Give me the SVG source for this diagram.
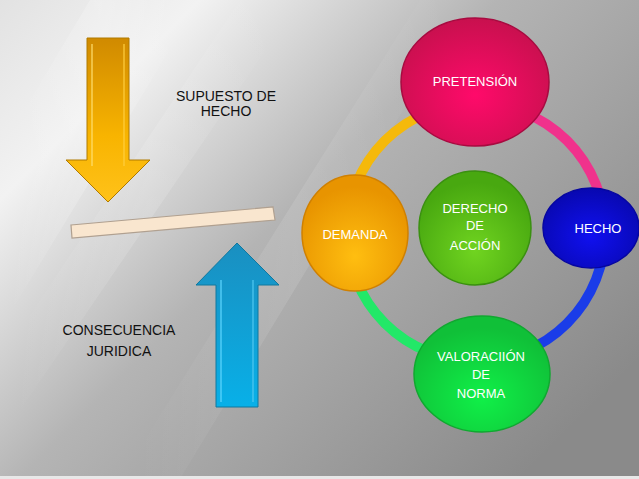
<svg xmlns="http://www.w3.org/2000/svg" width="639" height="479" viewBox="0 0 639 479">
<defs>
<linearGradient id="bg" x1="0" y1="0" x2="1" y2="0.75">
<stop offset="0" stop-color="#e2e2e2"/>
<stop offset="0.2" stop-color="#f2f2f2"/>
<stop offset="0.5" stop-color="#b4b4b4"/>
<stop offset="1" stop-color="#8a8a8a"/>
</linearGradient>
<linearGradient id="streak" x1="0" y1="0" x2="1" y2="0">
<stop offset="0" stop-color="#fff" stop-opacity="0"/>
<stop offset="0.5" stop-color="#fff" stop-opacity="0.35"/>
<stop offset="1" stop-color="#fff" stop-opacity="0"/>
</linearGradient>
<linearGradient id="gold" x1="0" y1="0" x2="0" y2="1">
<stop offset="0" stop-color="#d08a00"/>
<stop offset="0.6" stop-color="#f8b400"/>
<stop offset="1" stop-color="#ffc21a"/>
</linearGradient>
<linearGradient id="blue" x1="0" y1="0" x2="0" y2="1">
<stop offset="0" stop-color="#1a8fc0"/>
<stop offset="1" stop-color="#08b0e8"/>
</linearGradient>
<radialGradient id="gPre" cx="0.5" cy="0.6" r="0.6">
<stop offset="0" stop-color="#ff0a6a"/>
<stop offset="1" stop-color="#c8104e"/>
</radialGradient>
<radialGradient id="gDem" cx="0.5" cy="0.7" r="0.6">
<stop offset="0" stop-color="#ffbe10"/>
<stop offset="1" stop-color="#e89400"/>
</radialGradient>
<radialGradient id="gDer" cx="0.5" cy="0.7" r="0.6">
<stop offset="0" stop-color="#70d420"/>
<stop offset="1" stop-color="#48a810"/>
</radialGradient>
<radialGradient id="gHec" cx="0.5" cy="0.6" r="0.6">
<stop offset="0" stop-color="#1010f0"/>
<stop offset="1" stop-color="#0808b0"/>
</radialGradient>
<radialGradient id="gVal" cx="0.5" cy="0.7" r="0.6">
<stop offset="0" stop-color="#10f048"/>
<stop offset="1" stop-color="#10c038"/>
</radialGradient>
<style>
.lbl{font-family:"Liberation Sans",Arial,sans-serif;font-size:14px;fill:#111;text-anchor:middle}
.wl{font-family:"Liberation Sans",Arial,sans-serif;font-size:13px;fill:#fff;text-anchor:middle}
.ring{fill:none;stroke-width:10}
.node{stroke-width:1.5}
.bevel{fill:none;stroke-width:1.5;opacity:0.8}
</style>
</defs>
<rect width="639" height="479" fill="url(#bg)"/>
<g opacity="0.9">
<polygon points="0,150 90,0 200,0 0,330" fill="url(#streak)" opacity="0.8"/>
<polygon points="0,360 240,0 300,0 0,440" fill="url(#streak)" opacity="0.5"/>
<polygon points="120,479 420,0 470,0 180,479" fill="url(#streak)" opacity="0.35"/>
</g>
<rect x="0" y="476" width="639" height="3" fill="#e8e8e8"/>

<g id="arrow-down">
<polygon points="87,38 129,38 129,160 150,160 108,202 66,160 87,160" fill="url(#gold)" stroke="#b07a00" stroke-width="1"/>
<polyline class="bevel" points="92,44 92,166" stroke="#ffe070"/>
<polyline class="bevel" points="124,44 124,166" stroke="#ffd040"/>
</g>
<g id="plank">
<polygon points="71,225 273,207 275,220 72,238" fill="#f9e6cf" stroke="#b0a090" stroke-width="1.2"/>
</g>
<g id="arrow-up">
<polygon points="237,243 279,285 258,285 258,407 216,407 216,285 196,285" fill="url(#blue)" stroke="#10789e" stroke-width="1"/>
<polyline class="bevel" points="221,280 221,402" stroke="#60d8ff"/>
<polyline class="bevel" points="253,280 253,402" stroke="#50c8f0"/>
</g>
<g id="label-supuesto">
<text class="lbl" x="226" y="101">SUPUESTO DE</text>
<text class="lbl" x="226" y="116">HECHO</text>
</g>
<g id="label-consecuencia">
<text class="lbl" x="119" y="335">CONSECUENCIA</text>
<text class="lbl" x="119" y="356">JURIDICA</text>
</g>

<g id="connectors">
<path class="ring" d="M476,103 A129,129 0 0 0 347,232" stroke="#f5b90a"/>
<path class="ring" d="M476,103 A129,129 0 0 1 605,232" stroke="#f0328c"/>
<path class="ring" d="M347,232 A129,129 0 0 0 476,361" stroke="#22e868"/>
<path class="ring" d="M605,232 A129,129 0 0 1 476,361" stroke="#1a3ce8"/>
</g>

<g id="pretension">
<ellipse class="node" cx="475" cy="82" rx="74" ry="64" fill="url(#gPre)" stroke="#a80a40"/>
<text class="wl" x="475" y="86">PRETENSIÓN</text>
</g>
<g id="demanda">
<ellipse class="node" cx="355" cy="233" rx="53" ry="58" fill="url(#gDem)" stroke="#d08000"/>
<text class="wl" x="355" y="239">DEMANDA</text>
</g>
<g id="derecho">
<ellipse class="node" cx="475" cy="228" rx="56" ry="57" fill="url(#gDer)" stroke="#3a9010"/>
<text class="wl" x="475" y="213">DERECHO</text>
<text class="wl" x="475" y="230">DE</text>
<text class="wl" x="475" y="250">ACCIÓN</text>
</g>
<g id="hecho">
<ellipse class="node" cx="591" cy="228" rx="48" ry="40" fill="url(#gHec)" stroke="#0606a0"/>
<text class="wl" x="598" y="233">HECHO</text>
</g>
<g id="valoracion">
<ellipse class="node" cx="482" cy="374" rx="68" ry="58" fill="url(#gVal)" stroke="#10a830"/>
<text class="wl" x="481" y="361">VALORACIIÓN</text>
<text class="wl" x="481" y="379">DE</text>
<text class="wl" x="481" y="398">NORMA</text>
</g>
</svg>
